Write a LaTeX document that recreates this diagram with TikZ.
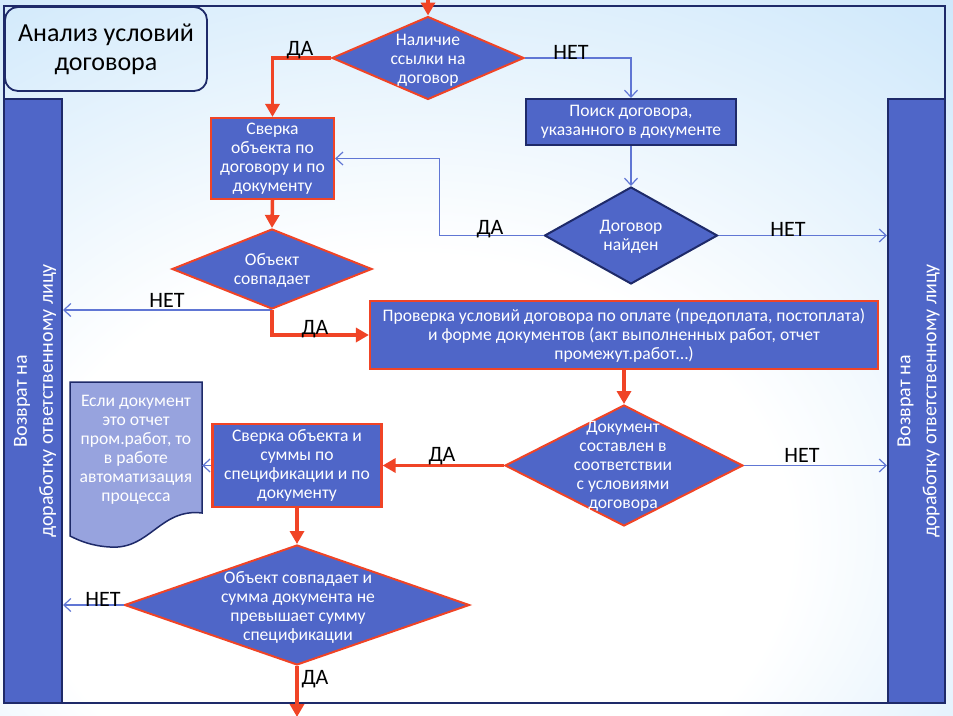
\documentclass[tikz,border=0pt]{standalone}
\usepackage{fontspec}
\setmainfont{Carlito}
\usetikzlibrary{shapes.geometric,arrows.meta}
\definecolor{fillblue}{RGB}{79,102,200}
\definecolor{navy}{RGB}{30,42,105}
\definecolor{redc}{RGB}{240,68,38}
\definecolor{linkblue}{RGB}{96,118,212}
\definecolor{docfill}{RGB}{151,163,222}
\definecolor{bgblue}{RGB}{165,212,247}
\pgfdeclareradialshading{bgshade}{\pgfpoint{-5bp}{-18bp}}{color(0bp)=(white); color(20bp)=(white); color(40bp)=(bgblue!50!white); color(70bp)=(bgblue)}
\newcommand\fsbox{\fontsize{17.6}{19}\selectfont}
\newcommand\fslab{\fontsize{22}{24}\selectfont}
\newcommand\fsbar{\fontsize{20}{26}\selectfont}
\newcommand\fstitle{\fontsize{26}{29}\selectfont}
\begin{document}
\begin{tikzpicture}[x=1pt,y=-1pt,
  rbox/.style={rectangle, draw=redc, line width=2.2pt, fill=fillblue, text=white, align=center, inner sep=0pt, font=\fsbox},
  nbox/.style={rectangle, draw=navy, line width=2pt, fill=fillblue, text=white, align=center, inner sep=0pt, font=\fsbox},
  rdia/.style={diamond, draw=redc, line width=2pt, fill=fillblue, inner sep=0pt},
  ndia/.style={diamond, draw=navy, line width=2pt, fill=fillblue, inner sep=0pt},
  txt/.style={text=white, align=center, inner sep=0pt, font=\fsbox},
  bar/.style={rectangle, draw=navy, line width=2pt, fill=fillblue, inner sep=0pt},
  bartext/.style={text=white, align=center, inner sep=0pt, font=\fsbar, rotate=90},
  lab/.style={text=black, inner sep=0pt, font=\fslab},
  redarrow/.style={draw=redc, line width=3.5pt, -{Triangle[length=13pt,width=14pt]}},
  bluearrow/.style={draw=linkblue, line width=1.2pt, -{Straight Barb[length=7pt,width=13pt]}}
]
\useasboundingbox (0,0) rectangle (953,715);
\shade[shading=bgshade] (0,0) rectangle (953,715);
\draw[navy, line width=2pt] (4,6) rectangle (945,703);
\node[draw=navy, line width=1.8pt, rounded corners=13pt, minimum width=202pt, minimum height=84pt, align=center, font=\fstitle, text=black, inner sep=0pt] (title) at (106,49) {Анализ условий\\договора};

% side bars
\node[bar, minimum width=58pt, minimum height=604pt] (lbar) at (33,401) {};
\node[bartext] (ltext) at (35,401) {Возврат на\\доработку ответственному лицу};
\node[bar, minimum width=57pt, minimum height=604pt] (rbar) at (916.5,401) {};
\node[bartext] (rtext) at (918.5,401) {Возврат на\\доработку ответственному лицу};

% document shape
\node[minimum width=132pt, minimum height=131pt, inner sep=0pt] (doc) at (136,447.5) {};
\draw[navy, line width=1.5pt, fill=docfill] (70,382) -- (202,382) -- (202,513) .. controls (160,508) and (150,550) .. (110,547) .. controls (92,546) and (80,541) .. (70,536) -- cycle;
\node[txt] (doctext) at (136,450) {Если документ\\это отчет\\пром.работ, то\\в работе\\автоматизация\\процесса};

% boxes
\node[rbox, minimum width=123pt, minimum height=81pt] (b1) at (272.5,158.5) {Сверка\\объекта по\\договору и по\\документу};
\node[nbox, minimum width=210pt, minimum height=46pt] (b0) at (631,122) {Поиск договора,\\указанного в документе};
\node[rbox, minimum width=508pt, minimum height=68pt] (b3) at (624,335) {Проверка условий договора по оплате (предоплата, постоплата)\\и форме документов (акт выполненных работ, отчет\\промежут.работ…)};
\node[rbox, minimum width=169pt, minimum height=83pt] (b4) at (297,465.5) {Сверка объекта и\\суммы по\\спецификации и по\\документу};

% diamonds
\node[rdia, minimum width=192pt, minimum height=83pt] (d1) at (428,58) {};
\node[txt] at (428,60) {Наличие\\ссылки на\\договор};
\node[ndia, minimum width=173pt, minimum height=97pt] (d2) at (631,235.5) {};
\node[txt] at (631,237) {Договор\\найден};
\node[rdia, minimum width=200pt, minimum height=80pt] (d3) at (272,269) {};
\node[txt] at (272,270) {Объект\\совпадает};
\node[rdia, minimum width=238pt, minimum height=121pt] (d4) at (624,465.5) {};
\node[txt] at (623,466) {Документ\\составлен в\\соответствии\\с условиями\\договора};
\node[rdia, minimum width=345pt, minimum height=120pt] (d5) at (297,605) {};
\node[txt] at (298,607) {Объект совпадает и\\сумма документа не\\превышает сумму\\спецификации};

% connectors
\coordinate (top) at (428,-4);
\coordinate (bot) at (297,717);
\draw[redarrow] (top) -- (d1.north);
\draw[redarrow] (d1.west) -| (b1.north);
\draw[bluearrow] (d1.east) -| (b0.north);
\draw[bluearrow] (b0.south) -- (d2.north);
\draw[bluearrow] (d2.west) -- ++(-104,0) |- (b1.east);
\draw[bluearrow] (d2.east) -- (d2.east -| rbar.west);
\draw[redarrow] (b1.south) -- (d3.north);
\draw[bluearrow] (d3.south) -- (d3.south -| lbar.east);
\draw[redarrow] (d3.south) |- (b3.west);
\draw[redarrow] (b3.south) -- (d4.north);
\draw[bluearrow] (d4.east) -- (d4.east -| rbar.west);
\draw[redarrow] (d4.west) -- (b4.east);
\draw[bluearrow] (b4.west) -- (b4.west -| doc.east);
\draw[redarrow] (b4.south) -- (d5.north);
\draw[bluearrow] (d5.west) -- (d5.west -| lbar.east);
\draw[redarrow] (d5.south) -- (bot);

% labels
\node[lab] at (300,50) {ДА};
\node[lab] at (571,52) {НЕТ};
\node[lab] at (490,229) {ДА};
\node[lab] at (788,229) {НЕТ};
\node[lab] at (167,300) {НЕТ};
\node[lab] at (315,329) {ДА};
\node[lab] at (442,456) {ДА};
\node[lab] at (802,455) {НЕТ};
\node[lab] at (103,599) {НЕТ};
\node[lab] at (315,679) {ДА};
\end{tikzpicture}
\end{document}
